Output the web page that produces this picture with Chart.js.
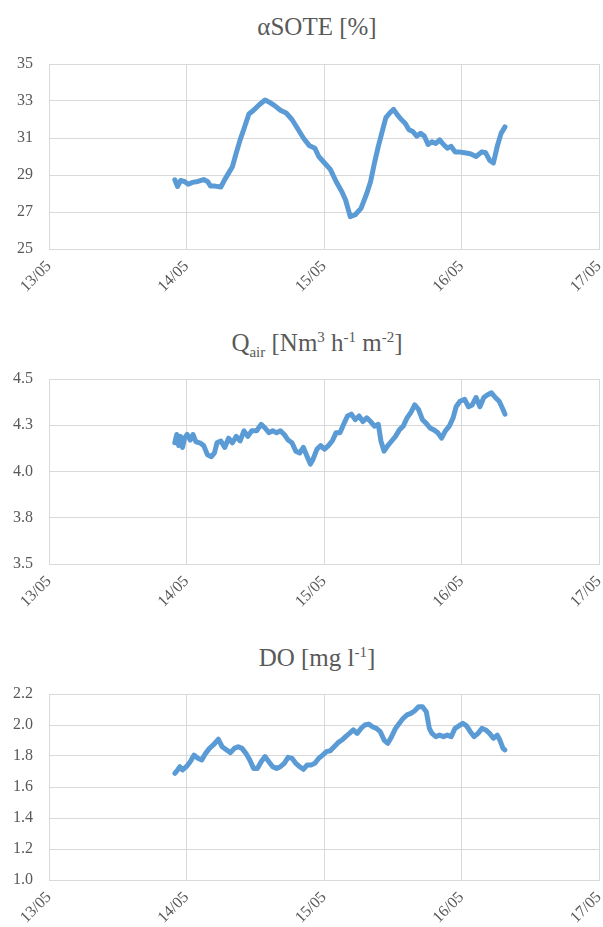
<!DOCTYPE html>
<html>
<head>
<meta charset="utf-8">
<script src="https://cdn.jsdelivr.net/npm/chart.js@4"></script>
<style>
  body { margin: 0; background: #fff; width: 603px; height: 927px; position: relative; overflow: hidden; }
  .title { position: absolute; left: 317px; transform: translateX(-50%); white-space: nowrap;
           font-family: 'Liberation Serif', 'Times New Roman', serif; font-size: 25px; line-height: 25px; color: #595959; }
  .title sub, .title sup { font-size: 15px; line-height: 0; }
  canvas { position: absolute; left: 0; }
</style>
</head>
<body>
<div class="title" style="top:14px">αSOTE [%]</div>
<div class="title" style="top:330px">Q<sub>air</sub> [Nm<sup>3</sup> h<sup>-1</sup> m<sup>-2</sup>]</div>
<div class="title" style="top:645px">DO [mg l<sup>-1</sup>]</div>
<canvas id="soteChart" width="603" height="260" style="top:49px"></canvas>
<canvas id="qairChart" width="603" height="260" style="top:364px"></canvas>
<canvas id="doChart" width="603" height="261" style="top:679px"></canvas>
<script>
// x axis: days since 13/05 00:00
const dayLabels = ['13/05', '14/05', '15/05', '16/05', '17/05'];

const soteTime = [0.915,0.935,0.957,0.985,1.013,1.041,1.083,1.125,1.153,1.175,1.208,1.250,1.278,1.306,1.334,1.362,1.390,1.418,1.454,1.488,
  1.529,1.571,1.599,1.641,1.683,1.725,1.767,1.809,1.850,1.892,1.934,1.962,2.004,2.046,2.088,2.130,2.157,2.191,2.227,2.269,
  2.311,2.339,2.367,2.395,2.423,2.450,2.478,2.506,2.534,2.562,2.590,2.618,2.646,2.674,2.702,2.730,2.757,2.785,2.813,2.841,
  2.869,2.897,2.925,2.953,2.981,3.023,3.064,3.106,3.148,3.176,3.204,3.232,3.260,3.288,3.316];
const soteValues = [28.74,28.38,28.7,28.65,28.5,28.6,28.65,28.75,28.65,28.4,28.4,28.35,28.75,29.1,29.45,30.2,30.9,31.5,32.3,32.5,
  32.8,33.05,32.95,32.75,32.5,32.35,32.0,31.5,31.0,30.6,30.45,30.0,29.65,29.3,28.65,28.1,27.65,26.75,26.85,27.2,
  28.0,28.65,29.65,30.55,31.35,32.1,32.35,32.55,32.25,32.0,31.8,31.45,31.35,31.1,31.25,31.1,30.65,30.8,30.7,30.9,
  30.65,30.45,30.55,30.25,30.25,30.2,30.15,30.0,30.25,30.2,29.8,29.65,30.55,31.25,31.6];

const qairTime = [0.915,0.929,0.943,0.957,0.971,0.985,1.005,1.027,1.047,1.069,1.097,1.125,1.153,1.181,1.203,1.222,1.250,1.278,1.306,1.334,
  1.362,1.390,1.418,1.446,1.474,1.510,1.543,1.571,1.599,1.627,1.655,1.683,1.711,1.739,1.767,1.795,1.823,1.850,1.878,1.901,
  1.920,1.948,1.976,2.004,2.032,2.060,2.088,2.116,2.143,2.171,2.199,2.227,2.255,2.283,2.311,2.339,2.367,2.395,2.414,2.437,
  2.464,2.492,2.520,2.548,2.576,2.604,2.632,2.660,2.688,2.716,2.744,2.771,2.799,2.827,2.855,2.883,2.911,2.939,2.961,2.989,
  3.023,3.051,3.078,3.106,3.134,3.162,3.190,3.218,3.246,3.274,3.302,3.316];
const qairValues = [4.155,4.20,4.14,4.19,4.13,4.18,4.20,4.17,4.20,4.16,4.155,4.14,4.09,4.08,4.10,4.155,4.165,4.13,4.18,4.155,
  4.19,4.165,4.22,4.19,4.22,4.22,4.255,4.235,4.21,4.22,4.21,4.22,4.20,4.17,4.155,4.11,4.10,4.13,4.08,4.04,
  4.065,4.12,4.14,4.12,4.14,4.165,4.21,4.21,4.255,4.30,4.31,4.28,4.30,4.27,4.29,4.27,4.245,4.255,4.165,4.11,
  4.14,4.165,4.19,4.225,4.245,4.29,4.32,4.36,4.335,4.28,4.26,4.235,4.225,4.21,4.18,4.22,4.245,4.29,4.35,4.38,
  4.39,4.35,4.36,4.40,4.35,4.40,4.415,4.425,4.40,4.38,4.335,4.31];

const doTime = [0.915,0.935,0.952,0.971,0.999,1.027,1.055,1.083,1.111,1.139,1.167,1.195,1.231,1.259,1.292,1.320,1.348,1.376,1.404,1.432,
  1.460,1.488,1.516,1.543,1.571,1.599,1.627,1.655,1.683,1.711,1.739,1.767,1.795,1.823,1.850,1.878,1.906,1.934,1.962,1.990,
  2.018,2.046,2.074,2.102,2.130,2.157,2.185,2.213,2.241,2.269,2.297,2.325,2.353,2.381,2.409,2.437,2.464,2.492,2.520,2.548,
  2.576,2.604,2.632,2.660,2.688,2.716,2.744,2.766,2.785,2.813,2.841,2.869,2.897,2.925,2.953,2.981,3.009,3.037,3.064,3.092,
  3.120,3.148,3.176,3.204,3.232,3.260,3.279,3.302,3.316];
const doValues = [1.688,1.71,1.731,1.71,1.731,1.763,1.806,1.785,1.774,1.817,1.849,1.871,1.908,1.860,1.839,1.822,1.849,1.860,1.849,1.817,
  1.774,1.720,1.720,1.763,1.796,1.763,1.731,1.720,1.731,1.753,1.791,1.785,1.753,1.731,1.714,1.742,1.742,1.753,1.785,1.806,
  1.828,1.834,1.860,1.886,1.903,1.925,1.946,1.968,1.946,1.978,2.0,2.006,1.989,1.978,1.957,1.903,1.882,1.925,1.978,2.011,
  2.043,2.065,2.075,2.092,2.118,2.118,2.086,1.978,1.946,1.925,1.935,1.925,1.935,1.925,1.978,1.994,2.011,1.994,1.957,1.925,
  1.946,1.978,1.968,1.946,1.914,1.935,1.903,1.849,1.839];

const gridColor = '#d9d9d9';
const textColor = '#595959';
const tickFont = { family: "'Liberation Serif', 'Times New Roman', serif", size: 16 };

function makeChart(id, times, values, yMin, yMax, yStep) {
  new Chart(document.getElementById(id), {
    type: 'line',
    data: {
      datasets: [{
        data: times.map((t, i) => ({ x: t, y: values[i] })),
        borderColor: '#5b9bd5',
        borderWidth: 5,
        pointRadius: 0,
        borderJoinStyle: 'round',
        borderCapStyle: 'round',
        tension: 0,
      }],
    },
    options: {
      responsive: false,
      animation: false,
      layout: { padding: { top: 15, right: 4, bottom: 0, left: 0 } },
      plugins: { legend: { display: false }, tooltip: { enabled: false }, title: { display: false } },
      scales: {
        x: {
          type: 'linear',
          min: 0,
          max: 4,
          grid: { color: gridColor, drawTicks: false },
          border: { color: gridColor },
          ticks: {
            stepSize: 1,
            autoSkip: false,
            minRotation: 45,
            maxRotation: 45,
            padding: 8,
            color: textColor,
            font: tickFont,
            callback: (v) => dayLabels[v],
          },
          afterFit: (scale) => {
            scale.height = 60;
            scale.paddingLeft = 0;
            scale.paddingRight = 0;
          },
        },
        y: {
          min: yMin,
          max: yMax,
          grid: { color: gridColor, drawTicks: false },
          border: { color: gridColor },
          ticks: {
            stepSize: yStep,
            padding: 16,
            color: textColor,
            font: tickFont,
            callback: (v) => (yStep < 1 ? Number(v).toFixed(1) : v),
          },
          afterFit: (scale) => {
            scale.width = 49;
            scale.paddingTop = 0;
            scale.paddingBottom = 0;
          },
        },
      },
    },
  });
}

makeChart('soteChart', soteTime, soteValues, 25, 35, 2);
makeChart('qairChart', qairTime, qairValues, 3.5, 4.5, 0.25);
makeChart('doChart', doTime, doValues, 1.0, 2.2, 0.2);
</script>
</body>
</html>
